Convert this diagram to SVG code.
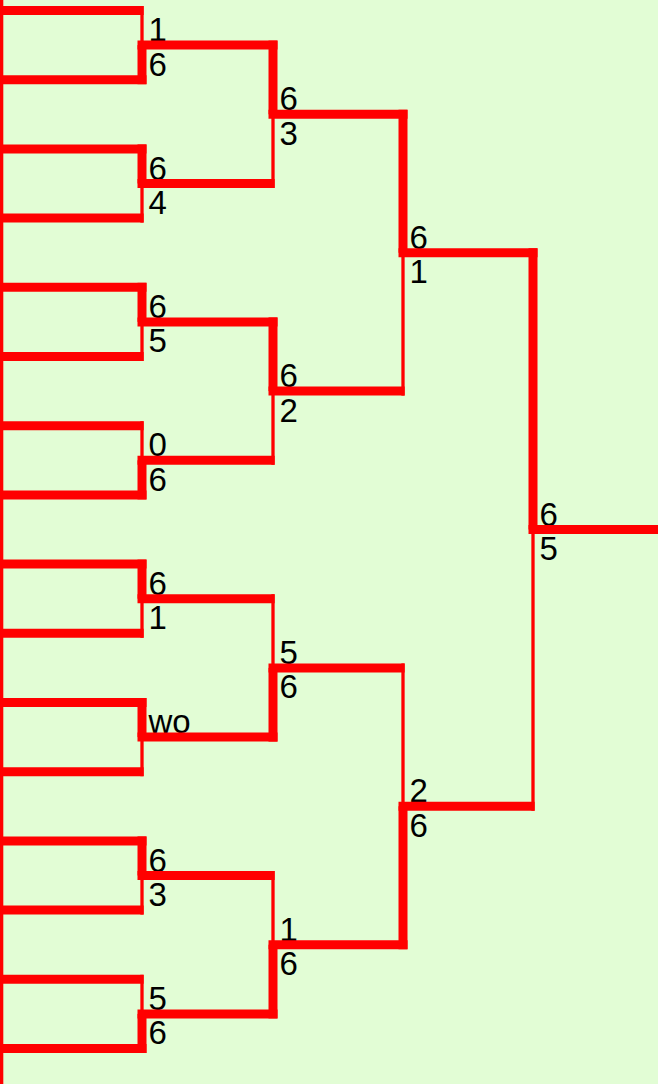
<svg xmlns="http://www.w3.org/2000/svg" width="658" height="1084" viewBox="0 0 658 1084">
<style>
.k{stroke:#ff0000;stroke-width:9;fill:none}
.t{stroke:#ff0000;stroke-width:3.3;fill:none}
text{font-family:"Liberation Sans",Arial,sans-serif;font-size:33px;fill:#000}
</style>
<rect x="0" y="0" width="658" height="1084" fill="#e2fdd5"/>
<g id="labels">
<g id="r1m1"><text x="148.5" y="41.1">1</text><text x="148.5" y="75.6">6</text></g>
<g id="r1m2"><text x="148.5" y="179.5">6</text><text x="148.5" y="214">4</text></g>
<g id="r1m3"><text x="148.5" y="317.9">6</text><text x="148.5" y="352.4">5</text></g>
<g id="r1m4"><text x="148.5" y="456.3">0</text><text x="148.5" y="490.8">6</text></g>
<g id="r1m5"><text x="148.5" y="594.7">6</text><text x="148.5" y="629.2">1</text></g>
<g id="r1m6"><text x="148.5" y="733.1">wo</text></g>
<g id="r1m7"><text x="148.5" y="871.5">6</text><text x="148.5" y="906">3</text></g>
<g id="r1m8"><text x="148.5" y="1009.9">5</text><text x="148.5" y="1044.4">6</text></g>
<g id="r2m1"><text x="279.5" y="110.3">6</text><text x="279.5" y="144.8">3</text></g>
<g id="r2m2"><text x="279.5" y="387.1">6</text><text x="279.5" y="421.6">2</text></g>
<g id="r2m3"><text x="279.5" y="663.9">5</text><text x="279.5" y="698.4">6</text></g>
<g id="r2m4"><text x="279.5" y="940.7">1</text><text x="279.5" y="975.2">6</text></g>
<g id="r3m1"><text x="409.5" y="248.7">6</text><text x="409.5" y="283.2">1</text></g>
<g id="r3m2"><text x="409.5" y="802.3">2</text><text x="409.5" y="836.8">6</text></g>
<g id="final"><text x="539.5" y="525.5">6</text><text x="539.5" y="560">5</text></g>
</g>
<g id="connectors">
<line class="t" x1="1.65" y1="0" x2="1.65" y2="1084"/>
<!-- round 1 -->
<line class="k" x1="0" y1="10.5" x2="143.65" y2="10.5"/><line class="t" x1="142" y1="6" x2="142" y2="45.1"/>
<line class="k" x1="0" y1="79.7" x2="146.5" y2="79.7"/><line class="k" x1="142" y1="45.1" x2="142" y2="84.2"/>
<line class="k" x1="0" y1="148.9" x2="146.5" y2="148.9"/><line class="k" x1="142" y1="144.4" x2="142" y2="183.5"/>
<line class="k" x1="0" y1="218.1" x2="143.65" y2="218.1"/><line class="t" x1="142" y1="183.5" x2="142" y2="222.6"/>
<line class="k" x1="0" y1="287.3" x2="146.5" y2="287.3"/><line class="k" x1="142" y1="282.8" x2="142" y2="321.9"/>
<line class="k" x1="0" y1="356.5" x2="143.65" y2="356.5"/><line class="t" x1="142" y1="321.9" x2="142" y2="361"/>
<line class="k" x1="0" y1="425.7" x2="143.65" y2="425.7"/><line class="t" x1="142" y1="421.2" x2="142" y2="460.3"/>
<line class="k" x1="0" y1="494.9" x2="146.5" y2="494.9"/><line class="k" x1="142" y1="460.3" x2="142" y2="499.4"/>
<line class="k" x1="0" y1="564.1" x2="146.5" y2="564.1"/><line class="k" x1="142" y1="559.6" x2="142" y2="598.7"/>
<line class="k" x1="0" y1="633.3" x2="143.65" y2="633.3"/><line class="t" x1="142" y1="598.7" x2="142" y2="637.8"/>
<line class="k" x1="0" y1="702.5" x2="146.5" y2="702.5"/><line class="k" x1="142" y1="698" x2="142" y2="737.1"/>
<line class="k" x1="0" y1="771.7" x2="143.65" y2="771.7"/><line class="t" x1="142" y1="737.1" x2="142" y2="776.2"/>
<line class="k" x1="0" y1="840.9" x2="146.5" y2="840.9"/><line class="k" x1="142" y1="836.4" x2="142" y2="875.5"/>
<line class="k" x1="0" y1="910.1" x2="143.65" y2="910.1"/><line class="t" x1="142" y1="875.5" x2="142" y2="914.6"/>
<line class="k" x1="0" y1="979.3" x2="143.65" y2="979.3"/><line class="t" x1="142" y1="974.8" x2="142" y2="1013.9"/>
<line class="k" x1="0" y1="1048.5" x2="146.5" y2="1048.5"/><line class="k" x1="142" y1="1013.9" x2="142" y2="1053"/>
<!-- round 2 -->
<line class="k" x1="137.5" y1="45.1" x2="277.5" y2="45.1"/><line class="k" x1="273" y1="40.6" x2="273" y2="114.3"/>
<line class="k" x1="137.5" y1="183.5" x2="274.65" y2="183.5"/><line class="t" x1="273" y1="114.3" x2="273" y2="188"/>
<line class="k" x1="137.5" y1="321.9" x2="277.5" y2="321.9"/><line class="k" x1="273" y1="317.4" x2="273" y2="391.1"/>
<line class="k" x1="137.5" y1="460.3" x2="274.65" y2="460.3"/><line class="t" x1="273" y1="391.1" x2="273" y2="464.8"/>
<line class="k" x1="137.5" y1="598.7" x2="274.65" y2="598.7"/><line class="t" x1="273" y1="594.2" x2="273" y2="667.9"/>
<line class="k" x1="137.5" y1="737.1" x2="277.5" y2="737.1"/><line class="k" x1="273" y1="667.9" x2="273" y2="741.6"/>
<line class="k" x1="137.5" y1="875.5" x2="274.65" y2="875.5"/><line class="t" x1="273" y1="871" x2="273" y2="944.7"/>
<line class="k" x1="137.5" y1="1013.9" x2="277.5" y2="1013.9"/><line class="k" x1="273" y1="944.7" x2="273" y2="1018.4"/>
<!-- round 3 -->
<line class="k" x1="268.5" y1="114.3" x2="407.5" y2="114.3"/><line class="k" x1="403" y1="109.8" x2="403" y2="252.7"/>
<line class="k" x1="268.5" y1="391.1" x2="404.65" y2="391.1"/><line class="t" x1="403" y1="252.7" x2="403" y2="395.6"/>
<line class="k" x1="268.5" y1="667.9" x2="404.65" y2="667.9"/><line class="t" x1="403" y1="663.4" x2="403" y2="806.3"/>
<line class="k" x1="268.5" y1="944.7" x2="407.5" y2="944.7"/><line class="k" x1="403" y1="806.3" x2="403" y2="949.2"/>
<!-- final -->
<line class="k" x1="398.5" y1="252.7" x2="537.5" y2="252.7"/><line class="k" x1="533" y1="248.2" x2="533" y2="529.5"/>
<line class="k" x1="398.5" y1="806.3" x2="534.65" y2="806.3"/><line class="t" x1="533" y1="529.5" x2="533" y2="810.8"/>
<line class="k" x1="528.5" y1="529.5" x2="658" y2="529.5"/>
</g>
</svg>
